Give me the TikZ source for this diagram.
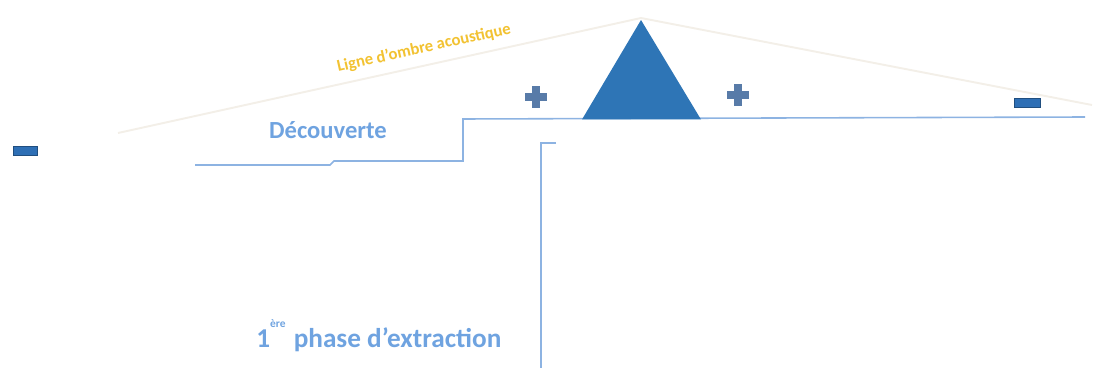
\documentclass[tikz,border=0pt]{standalone}
\usepackage{fontspec}
\setmainfont{Carlito}
\definecolor{ground}{HTML}{8DB3E2}
\definecolor{labelblue}{HTML}{6FA3E0}
\definecolor{tri}{HTML}{2E75B6}
\definecolor{plusc}{HTML}{587BA8}
\definecolor{minusc}{HTML}{2E6FB5}
\definecolor{shadow}{HTML}{F3EFE8}
\definecolor{gold}{HTML}{F2C232}
\begin{document}
\begin{tikzpicture}[x=0.02cm,y=-0.02cm,
  groundline/.style={draw=ground, line width=0.9pt},
  lbl/.style={text=labelblue, font=\bfseries\fontsize{14}{16}\selectfont, inner sep=0pt},
  minusbox/.style={fill=minusc, draw=minusc!70!black, line width=0.4pt}]
\useasboundingbox (0,0) rectangle (1093,368);
% acoustic shadow line
\coordinate (sl) at (118,133);
\coordinate (apex) at (641,18);
\coordinate (sr) at (1092,105);
\draw[shadow, line width=1.1pt] (sl) -- (apex) -- (sr);
\node[text=gold, font=\bfseries\fontsize{9.5}{11}\selectfont, rotate=12.5, inner sep=0pt] (shadowlbl) at (424,48) {Ligne d'ombre acoustique};
% ground profile
\coordinate (g1) at (195,165);
\coordinate (g2) at (330,165);
\coordinate (g3) at (334,161);
\coordinate (g4) at (463,161);
\coordinate (g5) at (463,119);
\coordinate (g6) at (1085,117);
\draw[groundline] (g1) -- (g2) -- (g3) -- (g4) -- (g5) -- (g6);
% pit wall
\coordinate (p1) at (556,143);
\coordinate (p2) at (541,143);
\coordinate (p3) at (541,368);
\draw[groundline] (p1) -- (p2) -- (p3);
% triangle
\coordinate (tl) at (582,119.5);
\coordinate (tr) at (701,119.5);
\coordinate (tt) at (641,20);
\fill[tri] (tl) -- (tt) -- (tr) -- cycle;
% plus signs
\foreach \cx/\cy in {536/97, 738/95}{
  \fill[plusc] (\cx-11,\cy-4) rectangle (\cx+11,\cy+4);
  \fill[plusc] (\cx-4,\cy-11) rectangle (\cx+4,\cy+11);
}
% minus signs
\draw[minusbox] (13,146) rectangle (37,155);
\draw[minusbox] (1014,98) rectangle (1040,107);
% labels
\node[lbl] (decouverte) at (328,130) {Découverte};
\node[lbl, anchor=base west, font=\bfseries\fontsize{15.5}{17}\selectfont] (extraction) at (256,347) {1\raisebox{1.45ex}{\fontsize{6.5}{7}\selectfont ère}\hspace{0.3em}phase d’extraction};
\end{tikzpicture}
\end{document}
